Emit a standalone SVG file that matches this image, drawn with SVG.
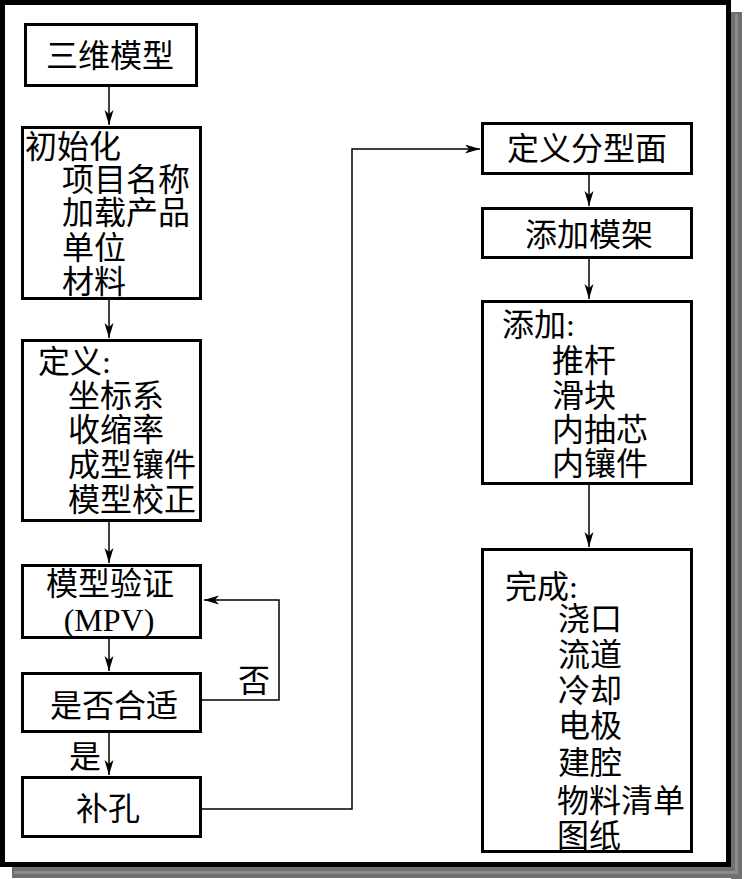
<svg xmlns="http://www.w3.org/2000/svg" width="744" height="879" viewBox="0 0 744 879">
<style>
.box{fill:#fff;stroke:#000;stroke-width:3}
.ln{fill:none;stroke:#000;stroke-width:1.5}
.t{font-family:"Liberation Serif","Noto Sans CJK SC",serif;font-size:32px;fill:#000}
.m{text-anchor:middle}
</style>
<defs>
<marker id="ah" markerUnits="userSpaceOnUse" markerWidth="16" markerHeight="10" refX="15" refY="4.5" orient="auto">
<path d="M0,0 L15,4.5 L0,9 L4,4.5 Z" fill="#000"/>
</marker>
</defs>
<rect x="0" y="0" width="744" height="879" fill="#fff"/>
<g id="frame">
<rect x="731" y="12" width="11" height="867" fill="#707070"/>
<rect x="12" y="867" width="730" height="11" fill="#707070"/>
<rect x="735" y="14" width="3" height="860" fill="#8c8c8c"/>
<rect x="14" y="871" width="724" height="3" fill="#8c8c8c"/>
<rect x="2.5" y="2.5" width="726" height="862" fill="none" stroke="#000" stroke-width="5"/>
</g>
<g id="connectors">
<line class="ln" x1="109" y1="87" x2="109" y2="125" marker-end="url(#ah)"/>
<line class="ln" x1="109" y1="300" x2="109" y2="338" marker-end="url(#ah)"/>
<line class="ln" x1="109" y1="522" x2="109" y2="563" marker-end="url(#ah)"/>
<line class="ln" x1="109" y1="639" x2="109" y2="671" marker-end="url(#ah)"/>
<line class="ln" x1="109" y1="733" x2="109" y2="775" marker-end="url(#ah)"/>
<path class="ln" d="M202,700 H279 V600 H204" marker-end="url(#ah)"/>
<path class="ln" d="M202,809 H352 V149 H480" marker-end="url(#ah)"/>
<line class="ln" x1="589" y1="175" x2="589" y2="206" marker-end="url(#ah)"/>
<line class="ln" x1="589" y1="259" x2="589" y2="299" marker-end="url(#ah)"/>
<line class="ln" x1="589" y1="485" x2="589" y2="547" marker-end="url(#ah)"/>
<text class="t m" x="254" y="692">否</text>
<text class="t m" x="85" y="768">是</text>
</g>
<g id="n1">
<rect class="box" x="25.5" y="24.5" width="171" height="61"/>
<text class="t m" x="110" y="67">三维模型</text>
</g>
<g id="n2">
<rect class="box" x="22.5" y="127.5" width="178" height="171"/>
<text class="t" x="25" y="158">初始化</text>
<text class="t" x="62" y="191">项目名称</text>
<text class="t" x="62" y="224">加载产品</text>
<text class="t" x="62" y="259">单位</text>
<text class="t" x="62" y="293">材料</text>
</g>
<g id="n3">
<rect class="box" x="22.5" y="340.5" width="178" height="180"/>
<text class="t" x="38" y="373">定义:</text>
<text class="t" x="68" y="407">坐标系</text>
<text class="t" x="68" y="441">收缩率</text>
<text class="t" x="68" y="476">成型镶件</text>
<text class="t" x="68" y="511">模型校正</text>
</g>
<g id="n4">
<rect class="box" x="22.5" y="565.5" width="178" height="72"/>
<text class="t m" x="110" y="595">模型验证</text>
<text class="t m" x="109" y="631">(MPV)</text>
</g>
<g id="n5">
<rect class="box" x="22.5" y="673.5" width="178" height="58"/>
<text class="t m" x="114" y="717">是否合适</text>
</g>
<g id="n6">
<rect class="box" x="22.5" y="777.5" width="178" height="59"/>
<text class="t m" x="108" y="820">补孔</text>
</g>
<g id="r1">
<rect class="box" x="482.5" y="123.5" width="209" height="50"/>
<text class="t m" x="587" y="160">定义分型面</text>
</g>
<g id="r2">
<rect class="box" x="482.5" y="208.5" width="209" height="49"/>
<text class="t m" x="589" y="246">添加模架</text>
</g>
<g id="r3">
<rect class="box" x="482.5" y="301.5" width="209" height="182"/>
<text class="t" x="502" y="336">添加:</text>
<text class="t" x="552" y="372">推杆</text>
<text class="t" x="552" y="407">滑块</text>
<text class="t" x="552" y="441">内抽芯</text>
<text class="t" x="552" y="475">内镶件</text>
</g>
<g id="r4">
<rect class="box" x="482.5" y="549.5" width="209" height="302"/>
<text class="t" x="505" y="598">完成:</text>
<text class="t" x="558" y="630">浇口</text>
<text class="t" x="558" y="666">流道</text>
<text class="t" x="558" y="702">冷却</text>
<text class="t" x="558" y="737">电极</text>
<text class="t" x="558" y="774">建腔</text>
<text class="t" x="557" y="812">物料清单</text>
<text class="t" x="557" y="847">图纸</text>
</g>
</svg>
